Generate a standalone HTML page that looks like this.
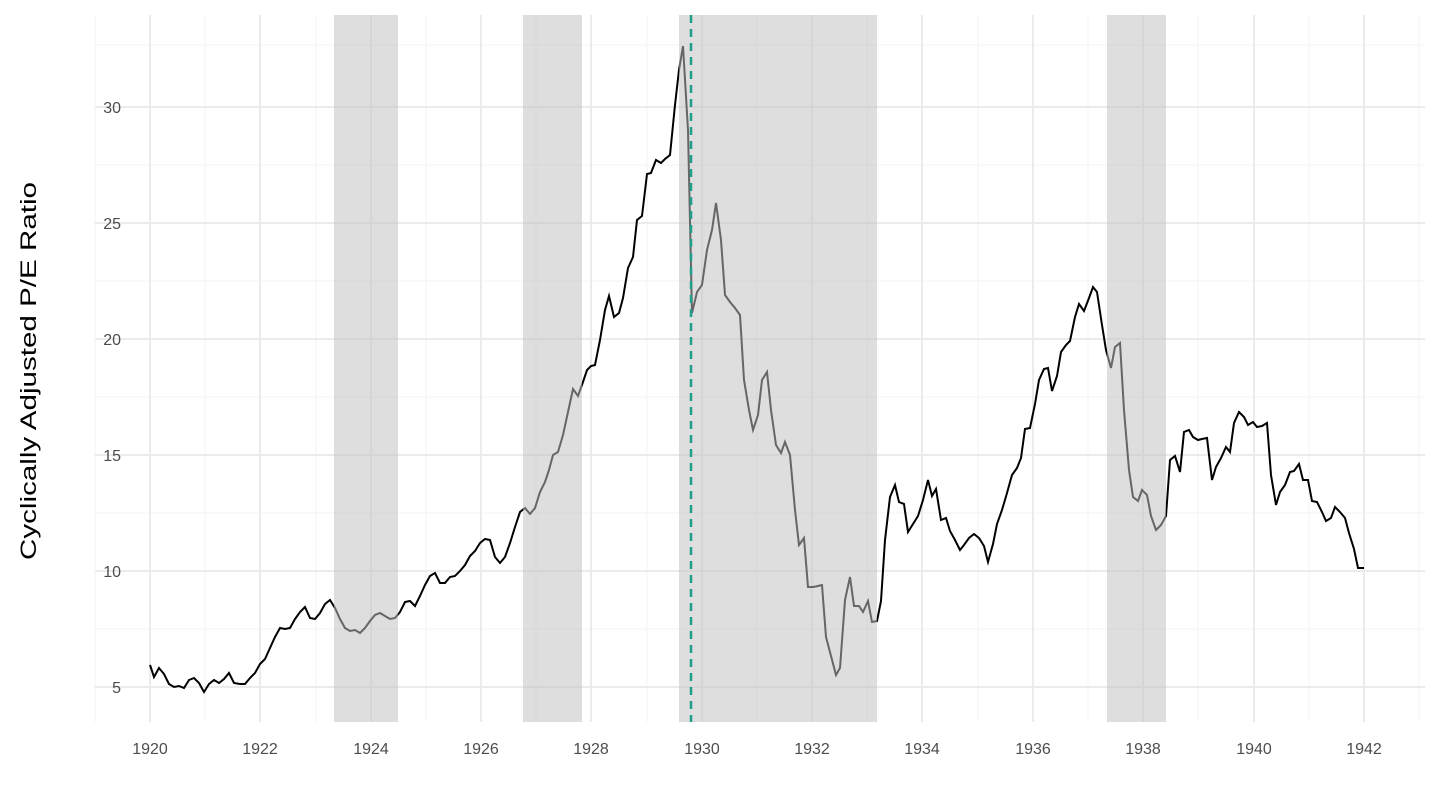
<!DOCTYPE html>
<html><head><meta charset="utf-8"><style>body{margin:0;background:#fff}svg{display:block}text{font-family:"Liberation Sans",sans-serif}</style></head><body>
<svg width="1440" height="810" viewBox="0 0 1440 810">
<g stroke="#f3f3f3" stroke-width="1">
<line x1="95" x2="1425" y1="45" y2="45"/><line x1="95" x2="1425" y1="165" y2="165"/><line x1="95" x2="1425" y1="281" y2="281"/><line x1="95" x2="1425" y1="397" y2="397"/><line x1="95" x2="1425" y1="513" y2="513"/><line x1="95" x2="1425" y1="629" y2="629"/>
<line y1="15" y2="722" x1="95" x2="95"/><line y1="15" y2="722" x1="205" x2="205"/><line y1="15" y2="722" x1="316" x2="316"/><line y1="15" y2="722" x1="426" x2="426"/><line y1="15" y2="722" x1="536" x2="536"/><line y1="15" y2="722" x1="647" x2="647"/><line y1="15" y2="722" x1="757" x2="757"/><line y1="15" y2="722" x1="867" x2="867"/><line y1="15" y2="722" x1="978" x2="978"/><line y1="15" y2="722" x1="1088" x2="1088"/><line y1="15" y2="722" x1="1198" x2="1198"/><line y1="15" y2="722" x1="1309" x2="1309"/><line y1="15" y2="722" x1="1419" x2="1419"/>
</g>
<g stroke="#ebebeb" stroke-width="2">
<line x1="95" x2="1425" y1="107" y2="107"/><line x1="95" x2="1425" y1="223" y2="223"/><line x1="95" x2="1425" y1="339" y2="339"/><line x1="95" x2="1425" y1="455" y2="455"/><line x1="95" x2="1425" y1="571" y2="571"/><line x1="95" x2="1425" y1="687" y2="687"/>
<line y1="15" y2="722" x1="150" x2="150"/><line y1="15" y2="722" x1="260" x2="260"/><line y1="15" y2="722" x1="371" x2="371"/><line y1="15" y2="722" x1="481" x2="481"/><line y1="15" y2="722" x1="591" x2="591"/><line y1="15" y2="722" x1="702" x2="702"/><line y1="15" y2="722" x1="812" x2="812"/><line y1="15" y2="722" x1="922" x2="922"/><line y1="15" y2="722" x1="1033" x2="1033"/><line y1="15" y2="722" x1="1143" x2="1143"/><line y1="15" y2="722" x1="1254" x2="1254"/><line y1="15" y2="722" x1="1364" x2="1364"/>
</g>
<polyline fill="none" stroke="#000" stroke-width="2" points="150,665 154,677 159,668 164,674 169,684 174,687 179,686 184,688 189,680 194,678 199,683 204,692 209,684 214,680 219,683 224,679 229,673 234,683 240,684 245,684 250,678 255,673 260,664 265,659 270,648 275,637 280,628 285,629 290,628 295,619 300,612 305,607 310,618 315,619 320,613 325,604 330,600 335,608 340,619 345,628 350,631 355,630 360,633 365,628 370,621 375,615 380,613 385,616 390,619 395,618 400,612 405,602 410,601 415,606 420,596 425,585 430,576 435,573 440,583 445,583 450,577 455,576 460,571 465,565 470,556 475,551 480,543 485,539 490,540 495,557 500,563 505,557 510,543 515,527 520,512 525,508 530,514 535,508 540,492 545,482 549,470 553,455 558,452 563,435 568,412 573,389 578,396 583,382 587,370 591,366 595,365 600,340 605,310 609,296 614,317 619,313 623,298 628,268 633,257 637,220 642,216 647,174 651,173 656,160 661,163 665,159 670,155 675,105 679,70 683,46 688,130 692,313 697,292 702,285 707,250 712,230 716,203 721,240 725,295 730,302 735,308 740,315 744,380 749,410 753,430 758,415 762,380 767,372 771,410 776,445 781,453 785,442 790,455 795,510 799,545 804,538 808,587 813,587 818,586 822,585 826,637 831,656 836,675 840,668 845,600 850,577 854,606 859,606 863,612 868,601 872,622 877,621 881,601 885,540 890,497 895,485 899,502 904,504 908,532 913,524 918,516 923,500 928,480 932,496 936,489 941,520 946,518 950,531 955,540 960,550 964,545 969,538 974,534 979,538 984,546 988,562 993,544 997,524 1002,510 1007,493 1012,475 1017,468 1021,458 1025,429 1030,428 1035,404 1039,380 1044,369 1048,368 1052,391 1057,376 1061,352 1066,345 1070,341 1075,317 1079,304 1084,311 1089,298 1093,287 1097,292 1102,325 1106,350 1111,368 1115,347 1120,343 1124,410 1129,470 1133,497 1138,501 1142,490 1147,495 1151,516 1156,530 1161,525 1166,516 1170,460 1175,456 1180,472 1184,432 1189,430 1193,437 1198,440 1202,439 1207,438 1212,480 1216,467 1221,458 1226,447 1230,452 1234,423 1239,412 1244,417 1248,425 1253,422 1257,427 1262,426 1267,423 1271,475 1276,505 1280,492 1285,485 1290,472 1294,471 1299,464 1303,480 1308,480 1312,501 1317,502 1322,512 1326,521 1331,518 1335,507 1340,512 1345,518 1349,533 1354,549 1358,568 1364,568"/>
<g fill="rgb(192,192,192)" fill-opacity="0.53">
<rect x="334" y="15" width="64" height="707"/><rect x="523" y="15" width="59" height="707"/><rect x="679" y="15" width="198" height="707"/><rect x="1107" y="15" width="59" height="707"/>
</g>
<line x1="691" x2="691" y1="15" y2="722" stroke="#1f9e89" stroke-width="2.5" stroke-dasharray="8,6"/>
<g fill="#4d4d4d" font-size="16" text-anchor="end">
<text x="121" y="113">30</text><text x="121" y="229">25</text><text x="121" y="345">20</text><text x="121" y="461">15</text><text x="121" y="577">10</text><text x="121" y="693">5</text>
</g>
<g fill="#4d4d4d" font-size="16" text-anchor="middle">
<text x="150" y="754">1920</text><text x="260" y="754">1922</text><text x="371" y="754">1924</text><text x="481" y="754">1926</text><text x="591" y="754">1928</text><text x="702" y="754">1930</text><text x="812" y="754">1932</text><text x="922" y="754">1934</text><text x="1033" y="754">1936</text><text x="1143" y="754">1938</text><text x="1254" y="754">1940</text><text x="1364" y="754">1942</text>
</g>
<text transform="translate(36,371) rotate(-90)" text-anchor="middle" font-size="22" fill="#000" textLength="378" lengthAdjust="spacingAndGlyphs">Cyclically Adjusted P/E Ratio</text>
</svg>
</body></html>
